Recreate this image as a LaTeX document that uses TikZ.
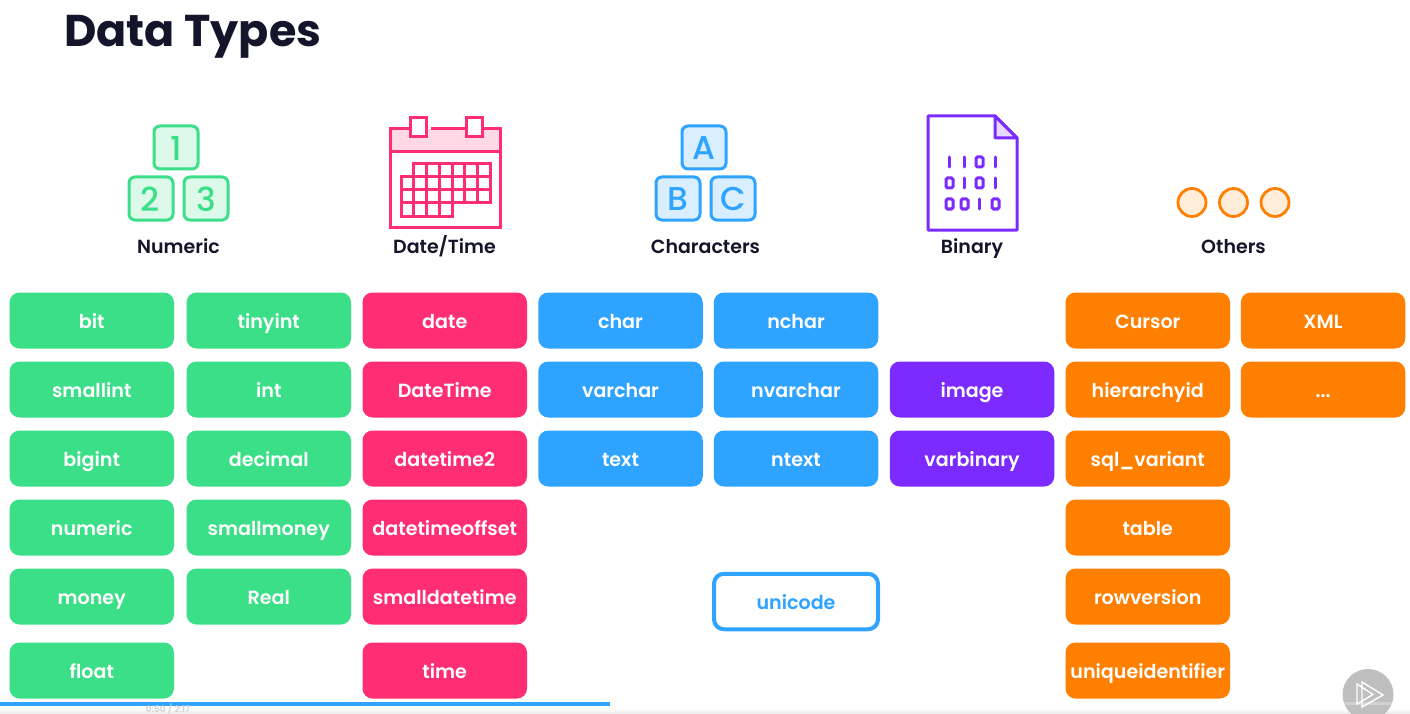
\documentclass[tikz,border=0pt]{standalone}
\usepackage{fontspec}
\setmainfont{Poppins}[BoldFont=Poppins SemiBold]
\newfontfamily\titlefont{Poppins}[BoldFont=Poppins Bold]
\newfontfamily\glyphfont{Poppins Medium}
\usetikzlibrary{shadings}
\definecolor{cgreen}{HTML}{3BDF88}
\definecolor{cpink}{HTML}{FF2E74}
\definecolor{cblue}{HTML}{2EA3FF}
\definecolor{cpurple}{HTML}{7B2BFF}
\definecolor{corange}{HTML}{FF7F00}
\definecolor{cdark}{HTML}{14142B}
\tikzset{
  x=1pt,y=-1pt,
  pill/.style={rounded corners=10pt,minimum width=164.5pt,minimum height=56pt,inner sep=0pt,text=white,
    font=\fontsize{19.1}{24}\selectfont\bfseries,text height=20pt,text depth=5pt,align=center},
  gpill/.style={pill,fill=cgreen},
  ppill/.style={pill,fill=cpink},
  bpill/.style={pill,fill=cblue},
  vpill/.style={pill,fill=cpurple},
  opill/.style={pill,fill=corange},
  cat/.style={text=cdark,font=\fontsize{19}{24}\selectfont\bfseries,inner sep=0pt,text height=20pt,text depth=5pt},
  glyph/.style={inner sep=0pt,font=\glyphfont\fontsize{33}{36}\selectfont},
  blockg/.style={draw=cgreen,fill=cgreen!18,line width=3pt,rounded corners=6pt},
  blockb/.style={draw=cblue,fill=cblue!18,line width=3pt,rounded corners=6pt},
  calline/.style={draw=cpink,line width=3pt},
  bitline/.style={draw=cpurple,line width=3pt,line cap=round},
  bitzero/.style={draw=cpurple,line width=3pt,rounded corners=1.5pt},
  dot/.style={circle,draw=corange,fill=corange!15,line width=2.8pt,minimum size=28pt,inner sep=0pt},
}
\begin{document}
\begin{tikzpicture}
\useasboundingbox (0,0) rectangle (1410,714);
\fill[white] (0,0) rectangle (1410,714);
% title
\node[anchor=base west,inner sep=0pt,text=cdark,font=\titlefont\fontsize{44.5}{54}\selectfont\bfseries] (title) at (64,47) {Data Types};
% numeric icon
\draw[blockg] (154,126) rectangle (198,169);
\draw[blockg] (129,177) rectangle (173,220);
\draw[blockg] (184,177) rectangle (228,220);
\node[glyph,text=cgreen] (n1) at (176,148) {1};
\node[glyph,text=cgreen] (n2) at (150.5,199) {2};
\node[glyph,text=cgreen] (n3) at (206,199) {3};
% calendar icon
\fill[cpink!18] (390,129) rectangle (500,152);
\draw[calline] (409,129) -- (390,129) -- (390,227) -- (500,227) -- (500,129) -- (481,129);
\draw[calline] (431,129) -- (465,129);
\draw[calline] (390,152) -- (500,152);
\draw[calline,fill=white] (410,118) rectangle (426,137);
\draw[calline,fill=white] (466,118) rectangle (482,137);
\draw[calline] (413,177) -- (413,164) -- (490,164) -- (490,203) -- (452,203) -- (452,216) -- (401,216) -- (401,177) -- cycle;
\draw[calline] (401,190) -- (490,190) (401,203) -- (452,203) (413,177) -- (490,177);
\draw[calline] (413,164) -- (413,216) (426,164) -- (426,216) (439,164) -- (439,216) (452,164) -- (452,203) (464.5,164) -- (464.5,203) (477.5,164) -- (477.5,203);
% characters icon
\draw[blockb] (682,126) rectangle (726,169);
\draw[blockb] (656,177) rectangle (700,220);
\draw[blockb] (711,177) rectangle (755,220);
\node[glyph,text=cblue] (ca) at (704,148) {A};
\node[glyph,text=cblue] (cb) at (678,199) {B};
\node[glyph,text=cblue] (cc) at (733,199) {C};
% binary icon
\draw[cpurple,line width=3pt,fill=white,line join=round] (928,116) -- (995,116) -- (1017,138) -- (1017,230) -- (928,230) -- cycle;
\draw[cpurple,line width=3pt,fill=cpurple!18,line join=round] (995,116) -- (1017,138) -- (995,138) -- cycle;
\foreach \x in {949,964,995} \draw[bitline] (\x,157) -- (\x,167);
\draw[bitzero] (976,157) rectangle (983,167);
\foreach \x in {964,995} \draw[bitline] (\x,178) -- (\x,188);
\foreach \x in {946,976} \draw[bitzero] (\x,178) rectangle (\x+7,188);
\draw[bitline] (979,199) -- (979,209);
\foreach \x in {946,961,992} \draw[bitzero] (\x,199) rectangle (\x+7,209);
% others icon
\node[dot] (d1) at (1192,202.5) {};
\node[dot] (d2) at (1233.5,202.5) {};
\node[dot] (d3) at (1275,202.5) {};
% category labels
\node[cat] (lnum) at (178.5,246) {Numeric};
\node[cat] (ldat) at (444.5,246) {Date/Time};
\node[cat] (lcha) at (705.5,246) {Characters};
\node[cat] (lbin) at (972,246) {Binary};
\node[cat] (loth) at (1233.5,246) {Others};
% numeric pills
\node[gpill] (bit) at (91.75,320.5) {bit};
\node[gpill] (tinyint) at (268.75,320.5) {tinyint};
\node[gpill] (smallint) at (91.75,389.5) {smallint};
\node[gpill] (int) at (268.75,389.5) {int};
\node[gpill] (bigint) at (91.75,458.5) {bigint};
\node[gpill] (decimal) at (268.75,458.5) {decimal};
\node[gpill] (numeric) at (91.75,527.5) {numeric};
\node[gpill] (smallmoney) at (268.75,527.5) {smallmoney};
\node[gpill] (money) at (91.75,596.5) {money};
\node[gpill] (real) at (268.75,596.5) {Real};
\node[gpill] (float) at (91.75,670.5) {float};
% date pills
\node[ppill] (date) at (444.75,320.5) {date};
\node[ppill] (datetime) at (444.75,389.5) {DateTime};
\node[ppill] (datetimetwo) at (444.75,458.5) {datetime2};
\node[ppill] (datetimeoffset) at (444.75,527.5) {datetimeoffset};
\node[ppill] (smalldatetime) at (444.75,596.5) {smalldatetime};
\node[ppill] (time) at (444.75,670.5) {time};
% character pills
\node[bpill] (char) at (620.5,320.5) {char};
\node[bpill] (nchar) at (796,320.5) {nchar};
\node[bpill] (varchar) at (620.5,389.5) {varchar};
\node[bpill] (nvarchar) at (796,389.5) {nvarchar};
\node[bpill] (text) at (620.5,458.5) {text};
\node[bpill] (ntext) at (796,458.5) {ntext};
\node[pill,draw=cblue,fill=white,text=cblue,line width=4pt,minimum width=164pt,minimum height=55.5pt] (unicode) at (796,601.5) {unicode};
% binary pills
\node[vpill] (image) at (972,389.5) {image};
\node[vpill] (varbinary) at (972,458.5) {varbinary};
% other pills
\node[opill] (cursor) at (1147.75,320.5) {Cursor};
\node[opill] (xml) at (1323,320.5) {XML};
\node[opill] (hierarchyid) at (1147.75,389.5) {hierarchyid};
\node[opill] (dots) at (1323,389.5) {...};
\node[opill] (sqlvariant) at (1147.75,458.5) {sql\_variant};
\node[opill] (table) at (1147.75,527.5) {table};
\node[opill] (rowversion) at (1147.75,596.5) {rowversion};
\node[opill] (uniqueidentifier) at (1147.75,670.5) {uniqueidentifier};
% player chrome
\begin{scope}
\clip (0,0) rectangle (1410,714);
\shade[top color=white,bottom color=black!8] (0,708) rectangle (1410,714);
\fill[cblue] (0,702) rectangle (610,705.5);
\node[anchor=base,inner sep=0pt,text=black!18,font=\fontsize{9}{10}\selectfont\bfseries] (clock) at (168,712) {0:50 / 2:17};
\fill[black!25] (1368,694.5) circle[radius=25.5];
\fill[white,opacity=.3] (1343,702) rectangle (1393,705);
\draw[white,line width=1.4pt,line join=miter] (1357,684) -- (1357,704) -- (1373,694.5) -- cycle;
\draw[white,line width=1.4pt,line join=miter] (1362,682) -- (1362,707) -- (1383,695) -- cycle;
\end{scope}
\end{tikzpicture}
\end{document}
